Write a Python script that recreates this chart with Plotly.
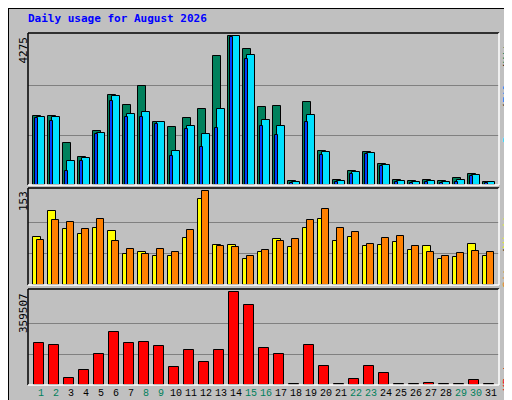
import plotly.graph_objects as go

days = list(range(1, 32))
hits = [1987,1987,1202,795,1551,2569,2307,2831,1813,1667,1929,2191,3703,4275,3907,2249,2278,126,2394,969,155,388,940,591,155,126,155,126,213,310,97]
files = [1958,1958,679,766,1493,2540,2045,2104,1813,969,1696,1464,2191,4275,3733,1871,1696,97,2016,940,126,359,911,562,126,97,126,97,155,281,97]
pages = [1930,1842,388,679,1473,2423,1939,1958,1754,824,1609,1086,1638,4250,3616,1696,1435,68,1813,855,97,320,882,540,97,68,97,68,97,250,68]
sites = [78,120,91,83,93,88,50,53,48,47,76,140,65,65,43,53,75,62,93,108,72,78,63,65,70,57,63,42,45,67,48]
visits = [73,106,103,91,108,72,58,50,58,53,90,153,63,62,47,57,72,75,106,123,93,86,67,77,80,63,53,48,52,55,53]
kbytes = [162700,154800,28900,56400,119400,206000,162700,166600,150900,68200,135100,87900,135100,359507,308300,143000,119400,3000,154800,72200,2500,24900,72200,44600,2000,2000,9200,2000,2000,21000,2000]
weekend = {1,2,8,9,15,16,22,23,29,30}
max_hits, max_visits, max_kb = 4275, 153, 359507

W, H = 512, 400
def fy(p): return 1 - p / H
def fx(p): return p / W

fig = go.Figure()
BW = 0.533
def bars(y, color, off, width, ax):
    fig.add_trace(go.Bar(x=days, y=y, offset=off, width=width, marker=dict(color=color, line=dict(color="black", width=1)),
                         xaxis="x" + ax, yaxis="y" + ax, showlegend=False, hoverinfo="skip"))

bars(hits, "#00805c", -0.2, BW, "")
bars(files, "#00e0ff", 0.067, BW, "")
bars(pages, "#0040ff", -0.067, 0.2, "")
bars(sites, "#ffff00", -0.2, BW, "2")
bars(visits, "#ff8000", 0.067, 0.47, "2")
bars(kbytes, "#ff0000", -0.11, 0.67, "3")

xr = [0.467, 31.87]
panels = [("", 25, 177, max_hits), ("2", 180, 277, max_visits), ("3", 281, 377, max_kb)]
layout = dict(width=W, height=H, margin=dict(l=0, r=0, t=0, b=0, pad=0), paper_bgcolor="#c0c0c0", plot_bgcolor="#c0c0c0",
              barmode="overlay", bargap=0)
shapes = []
for ax, top, bot, mx in panels:
    rng = [0, mx * (bot - top) / (bot - top - 3)]
    layout["xaxis" + ax] = dict(domain=[fx(20), fx(491)], range=xr, showticklabels=False, showgrid=False, zeroline=False,
                                anchor="y" + ax, fixedrange=True)
    layout["yaxis" + ax] = dict(domain=[fy(bot), fy(top)], range=rng, showticklabels=False, tickvals=[mx/3, 2*mx/3],
                                gridcolor="#808080", gridwidth=1, zeroline=False, anchor="x" + ax)
    shapes += [
        dict(type="line", xref="paper", yref="paper", x0=fx(20), x1=fx(491), y0=fy(top), y1=fy(top), line=dict(color="black", width=1.5)),
        dict(type="line", xref="paper", yref="paper", x0=fx(20), x1=fx(20), y0=fy(top), y1=fy(bot), line=dict(color="black", width=1.5)),
        dict(type="line", xref="paper", yref="paper", x0=fx(20), x1=fx(491), y0=fy(bot), y1=fy(bot), line=dict(color="white", width=1.5)),
        dict(type="line", xref="paper", yref="paper", x0=fx(491), x1=fx(491), y0=fy(top), y1=fy(bot), line=dict(color="white", width=1.5)),
    ]
layout["xaxis3"].update(showticklabels=True, tickvals=[d + 0.33 for d in days],
                        ticktext=[f'<span style="color:{"#00805c" if d in weekend else "black"}">{d}</span>' for d in days],
                        tickfont=dict(family="Liberation Mono", size=10), ticks="", tickangle=0)
shapes += [
    dict(type="rect", xref="paper", yref="paper", x0=0, x1=1, y0=0, y1=1, line=dict(color="black", width=2)),
    dict(type="line", xref="paper", yref="paper", x0=fx(506), x1=fx(506), y0=fy(3), y1=fy(396), line=dict(color="#808080", width=5)),
    dict(type="line", xref="paper", yref="paper", x0=fx(3), x1=fx(508), y0=fy(396), y1=fy(396), line=dict(color="#808080", width=5)),
]
layout["shapes"] = shapes
mono = "DejaVu Sans Mono"
def A(text, x, y, xa="center", ya="top", angle=-90, color="black", bold=False):
    return dict(text=text, x=fx(x), y=fy(y), xref="paper", yref="paper", xanchor=xa, yanchor=ya, textangle=angle,
                showarrow=False, font=dict(family=mono, size=11, color=color))
ann = [
    A("<b>Daily usage for August 2026</b>", 18, 11, xa="left", ya="middle", angle=0, color="#0000ff"),
    A("4275", 15, 27),
    A("153", 15, 181),
    A("359507", 15, 283),
    A('<span style="color:#00e0ff">Pages</span>/<span style="color:#0080ff">Files</span>/<span style="color:#00805c">Hits</span>', 499, 27),
    A('<span style="color:#ff8000">Sites</span>/<span style="color:#ffff00">Visits</span>', 499, 198),
    A('KBytes', 499, 341, color="#ff0000"),
]
layout["annotations"] = ann
fig.update_layout(**layout)
fig.write_html("out.html")
